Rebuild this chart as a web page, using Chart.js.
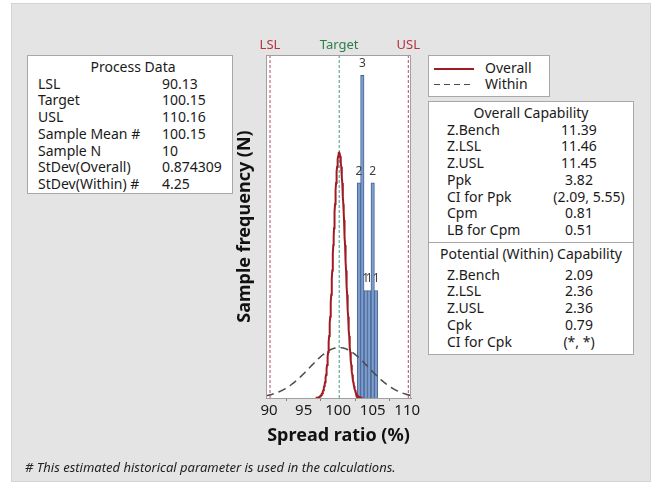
<!DOCTYPE html>
<html>
<head>
<meta charset="utf-8">
<script src="https://cdn.jsdelivr.net/npm/chart.js@4.4.1/dist/chart.umd.min.js"></script>
<style>
  html, body { margin: 0; padding: 0; background: #ffffff; }
  body { width: 656px; height: 485px; position: relative; overflow: hidden;
         font-family: "Noto Sans", "Open Sans", sans-serif; color: #1a1a1a; }
  #panel { position: absolute; left: 11px; top: 3px; width: 638px; height: 477px;
           background: #e4e4e4; border: 1px solid #d4d4d4; }
  #chart { position: absolute; left: 0; top: 0; }
  .box { position: absolute; background: #ffffff; border: 1px solid #a8a8a8;
         font-size: 14px; line-height: 16.7px; box-sizing: border-box; }
  .row { display: flex; white-space: nowrap; }
  .ttl { text-align: center; white-space: nowrap; }
  #procBox { left: 27px; top: 55px; width: 206px; height: 139px; padding-top: 3px; }
  #procBox .lab { width: 124px; padding-left: 10px; }
  #legBox { left: 428px; top: 55px; width: 122px; height: 42px; padding-top: 4px; }
  #legBox .row { align-items: center; height: 16px; }
  #legBox .swatch { width: 40px; margin: 1px 11px 0 5px; }
  #capBox { left: 428px; top: 101px; width: 206px; height: 254px; }
  #capBox .lab { width: 92px; padding-left: 18px; }
  #capBox .val { width: 80px; text-align: center; }
  #capBox .val.wide { padding-left: 10px; }
  #overallSec { padding-top: 3px; height: 141px; box-sizing: border-box; border-bottom: 1px solid #a8a8a8; }
  #withinSec { padding-top: 3px; }
  #withinSec .ttl { margin-bottom: 4px; }
  #note { position: absolute; left: 25px; top: 458px; font-size: 13px; font-style: italic;
          color: #222; white-space: nowrap; }
</style>
</head>
<body>
<div id="panel"></div>
<canvas id="chart" width="656" height="485"></canvas>
<div id="procBox" class="box"></div>
<div id="legBox" class="box"></div>
<div id="capBox" class="box">
  <div id="overallSec"></div>
  <div id="withinSec"></div>
</div>
<div id="note"># This estimated historical parameter is used in the calculations.</div>

<script>
// Histogram of the spread ratio samples (bin midpoints, width 0.5)
const binMids = [103, 103.5, 104, 104.5, 105, 105.5];
const binCounts = [2, 3, 1, 1, 2, 1];
const binWidth = 0.5;

// Specification limits
const limitNames = ["LSL", "Target", "USL"];
const limitValues = [90.13, 100.15, 110.16];

// Process parameters
const sampleMean = 100.15;
const sampleN = 10;
const sdOverall = 0.874309;
const sdWithin = 4.25;

// Axis ticks
const xTicks = [90, 95, 100, 105, 110];

// Summary tables
const processLabels = ["LSL", "Target", "USL", "Sample Mean #", "Sample N", "StDev(Overall)", "StDev(Within) #"];
const processValues = ["90.13", "100.15", "110.16", "100.15", "10", "0.874309", "4.25"];
const overallLabels = ["Z.Bench", "Z.LSL", "Z.USL", "Ppk", "CI for Ppk", "Cpm", "LB for Cpm"];
const overallValues = ["11.39", "11.46", "11.45", "3.82", "(2.09, 5.55)", "0.81", "0.51"];
const withinLabels = ["Z.Bench", "Z.LSL", "Z.USL", "Cpk", "CI for Cpk"];
const withinValues = ["2.09", "2.36", "2.36", "0.79", "(*, *)"];

const limitColors = ["#b4323e", "#2e7d4a", "#b4323e"];
const limitLineColors = ["#c0465a", "#3a9a80", "#c0465a"];

// ---- tables ----
function addRows(el, title, labels, values) {
  const t = document.createElement("div");
  t.className = "ttl";
  t.textContent = title;
  el.appendChild(t);
  labels.forEach((lab, i) => {
    const r = document.createElement("div");
    r.className = "row";
    const a = document.createElement("span"); a.className = "lab"; a.textContent = lab;
    const b = document.createElement("span"); b.className = "val"; b.textContent = values[i];
    if (values[i].length > 8) b.classList.add("wide");
    r.appendChild(a); r.appendChild(b);
    el.appendChild(r);
  });
}
addRows(document.getElementById("procBox"), "Process Data", processLabels, processValues);
document.querySelector("#procBox .ttl").style.paddingLeft = "6px";
addRows(document.getElementById("overallSec"), "Overall Capability", overallLabels, overallValues);
addRows(document.getElementById("withinSec"), "Potential (Within) Capability", withinLabels, withinValues);

// legend
(function () {
  const leg = document.getElementById("legBox");
  const styles = [
    { height: "2px", background: "#a01c24" },
    { height: "1.5px", background: "repeating-linear-gradient(to right, #4a4a4a 0 6px, transparent 6px 10px)" }
  ];
  ["Overall", "Within"].forEach((name, i) => {
    const r = document.createElement("div"); r.className = "row";
    const s = document.createElement("span"); s.className = "swatch";
    s.style.height = styles[i].height; s.style.background = styles[i].background;
    const t = document.createElement("span"); t.textContent = name;
    r.appendChild(s); r.appendChild(t); leg.appendChild(r);
  });
})();

// ---- chart ----
const xMin = 89.55, xMax = 110.55, yMax = 3.19;
const scaleFactor = sampleN * binWidth;

// fitted normal density, scaled to histogram counts
function normalCurve(mean, sd, from, to, step) {
  const pts = [];
  for (let x = from; x <= to + 1e-9; x += step) {
    const z = (x - mean) / sd;
    pts.push({ x: x, y: scaleFactor * Math.exp(-0.5 * z * z) / (sd * Math.sqrt(2 * Math.PI)) });
  }
  return pts;
}

const histData = binMids.map((m, i) => ({ x: m, y: binCounts[i] }));

const limitSets = limitValues.map((v, i) => ({
  type: "line",
  data: [{ x: v, y: 0 }, { x: v, y: yMax }],
  borderColor: limitLineColors[i],
  borderWidth: 1,
  borderDash: [3, 2],
  pointRadius: 0,
  order: 2
}));

const framePlugin = {
  id: "frame",
  beforeDraw(chart) {
    const { ctx, chartArea: a } = chart;
    ctx.save();
    ctx.fillStyle = "#ffffff";
    ctx.fillRect(a.left, a.top, a.right - a.left, a.bottom - a.top);
    ctx.restore();
  },
  afterDraw(chart) {
    const { ctx, chartArea: a } = chart;
    ctx.save();
    ctx.strokeStyle = "#a0a0a0";
    ctx.lineWidth = 1;
    ctx.strokeRect(Math.round(a.left) + 0.5, Math.round(a.top) + 0.5,
                   Math.round(a.right - a.left) - 1, Math.round(a.bottom - a.top));
    // limit labels above the plot
    const xs = chart.scales.x;
    ctx.font = '13px "Noto Sans"';
    ctx.textAlign = "center";
    ctx.textBaseline = "middle";
    limitValues.forEach((v, i) => {
      ctx.fillStyle = limitColors[i];
      ctx.fillText(limitNames[i], xs.getPixelForValue(v), 45);
    });
    ctx.restore();
  },
  afterDatasetsDraw(chart) {
    const { ctx } = chart;
    const meta = chart.getDatasetMeta(0);
    ctx.save();
    ctx.font = '12px "Noto Sans"';
    ctx.fillStyle = "#404040";
    ctx.textAlign = "center";
    ctx.textBaseline = "alphabetic";
    meta.data.forEach((bar, i) => {
      ctx.fillText(String(binCounts[i]), bar.x, bar.y - 8);
    });
    ctx.restore();
  }
};

new Chart(document.getElementById("chart"), {
  type: "bar",
  data: {
    datasets: [
      {
        type: "bar",
        data: histData,
        backgroundColor: "rgb(124,158,206)",
        borderColor: "rgb(70,98,146)",
        borderWidth: 1,
        barPercentage: 1,
        categoryPercentage: 1,
        order: 3
      },
      ...limitSets,
      {
        type: "line",
        data: normalCurve(sampleMean, sdWithin, xMin, xMax, 0.1),
        borderColor: "#4a4a4a",
        borderWidth: 1.5,
        borderDash: [8, 5],
        pointRadius: 0,
        order: 1
      },
      {
        type: "line",
        data: normalCurve(sampleMean, sdOverall, 96.8, 103.5, 0.05),
        borderColor: "#a01c24",
        borderWidth: 2,
        pointRadius: 0,
        order: 0
      }
    ]
  },
  options: {
    responsive: false,
    animation: false,
    devicePixelRatio: 1,
    events: [],
    layout: { autoPadding: false, padding: { left: 230, right: 245, top: 55, bottom: 27 } },
    plugins: { legend: { display: false }, tooltip: { enabled: false } },
    scales: {
      x: {
        type: "linear",
        offset: false,
        min: xMin,
        max: xMax,
        afterFit: s => { s.height = 60; },
        afterBuildTicks: s => { s.ticks = xTicks.map(v => ({ value: v })); },
        ticks: { font: { size: 15, family: "Noto Sans" }, color: "#1a1a1a", padding: 1,
                 includeBounds: false, autoSkip: false, maxRotation: 0, minRotation: 0 },
        grid: { display: true, drawOnChartArea: false, drawTicks: true, tickLength: 3, color: "#808080" },
        border: { display: true, color: "#909090" },
        title: { display: true, text: "Spread ratio (%)", color: "#111",
                 font: { size: 18, weight: "bold", family: "Noto Sans" }, padding: { top: 0, bottom: 11 } }
      },
      y: {
        min: 0,
        max: yMax,
        afterFit: s => { s.width = 36; },
        ticks: { display: false },
        grid: { display: false },
        border: { display: false },
        title: { display: true, text: "Sample frequency (N)", color: "#111",
                 font: { size: 18, weight: "bold", family: "Noto Sans" }, padding: { top: 4, bottom: 0 } }
      }
    }
  },
  plugins: [framePlugin]
});
</script>
</body>
</html>
